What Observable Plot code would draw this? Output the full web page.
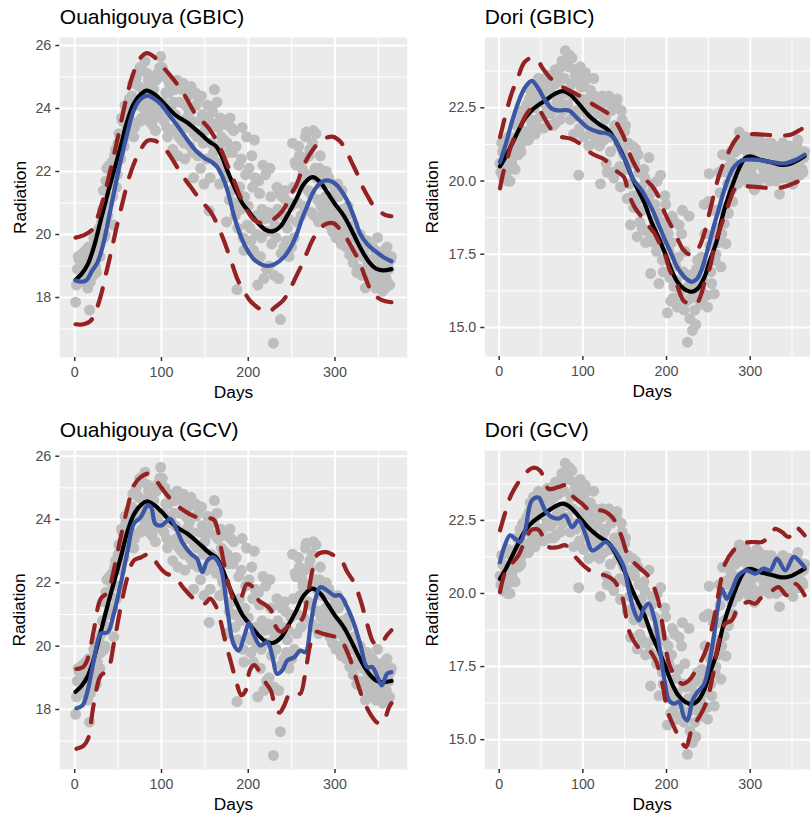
<!DOCTYPE html>
<html><head><meta charset="utf-8">
<script src="https://cdn.jsdelivr.net/npm/d3@7"></script>
<script src="https://cdn.jsdelivr.net/npm/@observablehq/plot@0.6"></script>
<style>
html,body{margin:0;padding:0;background:#fff;overflow:hidden;}
#wrap{position:relative;width:810px;height:819px;overflow:hidden;background:#fff;}
#wrap svg{position:absolute;}
</style></head><body><div id="wrap"></div>
<script>
// ---------- data ----------
const oddDays = d3.range(1, 366, 2);   // days 1,3,...,365
const evenDays = d3.range(2, 365, 2);  // days 2,4,...,364

const ouaRadOdd = [
17.85,18.9,19.2,18.6,19.4, 18.5,19.5,18.3,17.6,19.0, 18.7,19.6,18.8,20.1,19.3,
20.4,21.4,20.0,22.1,21.0, 21.6,22.3,20.3,22.7,21.9, 23.2,22.4,23.6,22.8,23.9,
23.2,24.3,23.6,24.8,23.4, 25.0,24.1,25.3,23.7,24.6, 25.5,23.8,24.9,24.2,23.5,
24.6,23.3,25.1,23.9,25.65, 25.3,23.6,24.5,23.1,24.8, 24.0,22.7,24.6,23.4,22.5,
24.2,23.0,24.8,22.4,23.7, 24.4,22.8,23.6,21.8,24.5, 23.1,24.3,22.1,23.8,21.6,
23.5,24.1,20.75,22.9,23.9, 24.6,22.3,23.4,21.6,23.1, 22.0,23.5,20.4,22.6,23.7,
21.4,23.3,20.6,18.25,22.2, 20.8,23.4,19.5,21.9,20.3, 22.1,19.8,21.5,23.0,20.6,
18.4,21.3,19.9,22.2,20.5, 18.9,20.7,22.1,19.7,16.55, 20.3,21.5,18.6,17.3,21.2,
19.6,21.1,20.2,19.3,20.9, 22.9,19.9,22.2,21.0,22.5, 20.6,21.9,22.4,23.25,21.4,
22.7,20.7,23.3,22.1,21.8, 20.4,22.5,21.6,20.7,21.2, 20.5,21.8,20.9,20.1,21.3,
19.9,21.6,20.5,19.7,20.8, 20.2,19.6,20.9,19.35,20.0, 19.1,19.9,18.8,19.5,20.0,
18.7,19.4,18.3,19.8,19.0, 18.5,19.6,18.9,18.3,19.9, 18.8,19.3,18.2,19.5,18.6,
19.0,18.4,19.3
];
const ouaRadEven = [
18.4,19.3,18.9,19.1,18.7, 19.2,18.9,19.6,18.5,19.3, 19.9,19.0,19.5,20.2,19.8,
20.8,19.9,21.7,20.6,22.2, 22.0,21.2,22.5,21.5,22.9, 22.6,23.7,23.0,24.1,23.4,
24.0,23.5,24.4,23.1,24.9, 24.2,24.7,23.6,25.2,24.0, 24.3,25.1,23.6,24.7,24.0,
23.7,24.9,24.2,25.3,23.8, 24.2,25.0,23.4,24.5,23.9, 23.3,24.2,23.8,24.9,23.1,
23.5,24.6,22.9,24.1,23.4, 23.9,24.7,22.6,23.2,24.1, 22.5,23.6,24.4,22.9,23.3,
22.4,23.7,21.8,24.0,22.6, 23.5,24.2,22.8,23.7,22.1, 23.0,21.8,22.9,21.1,23.4,
22.6,21.0,22.8,20.2,21.5, 22.4,19.9,21.2,23.1,20.9, 20.2,22.5,19.5,21.8,20.0,
21.7,19.3,20.8,18.6,21.9, 20.1,19.0,21.2,20.5,18.7, 19.9,20.8,21.3,19.4,20.6,
21.4,19.8,20.5,21.0,19.6, 21.5,22.3,20.4,22.8,21.6, 22.1,20.9,23.1,21.9,22.5,
21.3,22.9,20.6,23.2,21.1, 22.1,20.9,21.8,20.5,22.0, 21.0,20.3,21.6,20.7,21.5,
20.4,21.2,20.0,21.4,20.3, 19.8,20.6,20.1,19.9,19.5, 20.3,19.4,19.8,18.9,19.6,
19.3,18.8,19.7,19.1,18.5, 19.2,18.7,19.5,18.4,19.0, 19.4,18.5,19.1,18.3,19.6,
18.9,19.2
];

const doriRadOdd = [
20.6,21.3,20.1,20.9,20.3, 21.5,20.0,20.7,21.2,20.4, 21.9,20.9,22.2,21.3,21.7,
21.5,22.6,21.4,23.1,22.0, 23.3,21.6,22.8,23.5,22.2, 22.9,21.8,23.3,22.4,23.0,
22.3,23.5,21.9,23.8,22.7, 23.4,22.1,24.1,22.6,24.45, 23.0,23.9,22.1,24.2,21.6,
23.6,22.4,20.2,23.9,22.8, 21.5,23.7,22.3,21.2,23.1, 22.0,23.5,21.3,22.7,21.7,
19.9,22.9,21.4,22.2,20.3, 22.9,21.0,22.5,20.1,21.8, 22.8,21.5,19.8,22.1,20.9,
21.9,19.4,20.7,18.5,21.2, 19.1,21.1,18.1,20.3,19.6, 18.4,20.4,17.9,19.5,20.8,
16.84,19.9,17.9,18.7,20.0, 16.5,20.2,17.3,18.4,19.2, 15.5,17.6,15.9,18.8,16.4,
17.1,15.7,18.5,16.2,19.0, 15.6,16.8,14.5,18.8,16.0, 14.9,16.5,15.1,17.3,16.0,
16.3,15.8,19.2,17.1,15.7, 20.25,16.9,18.1,16.15,17.5, 19.0,20.3,17.07,20.9,18.55,
17.86,19.9,20.5,21.0,19.3, 20.6,21.27,19.9,21.67,20.4, 21.3,20.1,21.5,20.7,19.9,
21.3,20.5,19.7,21.1,20.6, 21.4,20.1,20.8,21.2,20.3, 20.9,20.0,21.3,20.5,20.8,
20.0,21.1,19.55,20.7,21.3, 20.4,20.9,20.1,21.2,20.6, 19.9,21.0,20.5,21.4,20.2,
20.9,20.3,21.0
];
const doriRadEven = [
20.3,21.0,20.6,21.4,20.0, 20.8,21.3,20.5,21.0,21.5, 21.2,21.8,21.0,22.4,21.6,
22.3,21.7,22.8,22.1,23.0, 22.5,21.9,23.2,22.7,23.4, 22.2,23.1,22.6,23.6,21.9,
23.0,22.4,23.3,22.0,23.7, 22.8,23.9,22.4,23.5,24.1, 22.6,24.3,23.3,22.9,23.8,
22.2,23.5,21.8,23.2,22.5, 23.4,22.0,22.8,21.6,22.5, 21.9,22.9,21.5,22.3,21.2,
22.6,21.8,22.1,20.6,22.7, 21.5,22.4,20.3,21.9,22.6, 21.2,20.5,22.4,21.0,21.7,
20.4,21.3,19.9,20.8,19.5, 20.6,19.3,20.9,18.6,19.8, 19.0,20.1,18.3,19.4,18.0,
19.6,18.4,19.2,17.6,18.9, 17.9,18.6,16.9,19.5,17.4, 18.2,16.7,17.9,16.0,18.6,
16.6,17.4,15.8,18.2,16.9, 17.6,15.9,16.4,15.3,16.8, 16.1,15.6,17.0,16.4,15.9,
17.4,16.6,18.2,16.1,19.3, 17.8,16.5,19.0,17.3,18.4, 17.9,19.6,18.2,20.4,19.1,
20.3,18.9,20.8,19.7,20.2, 21.0,20.5,21.3,20.0,21.1, 20.6,21.5,20.3,20.9,21.2,
20.2,21.0,20.7,21.5,20.0, 20.6,21.1,20.4,20.9,21.3, 20.5,21.2,20.2,20.7,21.0,
20.4,20.8,21.2,20.1,20.6, 21.0,20.3,20.8,20.5,21.1, 20.7,20.2,21.2,20.6,21.0,
20.4,20.8
];

// smooth curves: [day, radiation]
const ouaTruth = [[1,18.56],[8,18.75],[15,19.05],[22,19.6],[30,20.45],[38,21.3],[45,22.0],[53,22.8],[60,23.55],[68,24.15],[76,24.45],[83,24.57],[92,24.45],[100,24.25],[110,23.95],[118,23.75],[130,23.55],[145,23.2],[155,22.95],[163,22.8],[170,22.45],[177,21.95],[185,21.45],[193,21.0],[200,20.75],[210,20.4],[220,20.15],[228,20.1],[237,20.25],[246,20.65],[255,21.1],[264,21.6],[274,21.82],[283,21.66],[292,21.3],[300,20.97],[310,20.6],[318,20.2],[326,19.75],[333,19.39],[340,19.1],[347,18.92],[355,18.86],[365,18.9]];

const ouaGbicFit = [[1,18.54],[8,18.5],[14,18.56],[20,18.85],[26,19.1],[32,19.6],[38,20.35],[45,21.3],[53,22.35],[60,23.15],[68,23.94],[76,24.3],[84,24.41],[92,24.3],[100,24.12],[110,23.75],[118,23.47],[130,23.0],[140,22.65],[150,22.42],[158,22.3],[164,22.15],[170,21.85],[176,21.4],[184,20.55],[192,19.9],[199,19.5],[207,19.2],[214,19.07],[222,19.0],[230,19.05],[241,19.28],[250,19.65],[256,20.02],[262,20.5],[268,20.9],[274,21.3],[280,21.55],[287,21.7],[293,21.71],[300,21.62],[307,21.4],[314,21.08],[322,20.55],[329,20.02],[337,19.7],[345,19.5],[356,19.28],[365,19.15]];
const ouaGbicUpper = [[1,19.9],[10,19.97],[20,20.15],[27,20.6],[33,21.14],[39,21.8],[45,22.5],[51,23.25],[56,23.9],[62,24.6],[68,25.15],[75,25.58],[83,25.76],[91,25.65],[99,25.4],[110,25.05],[120,24.7],[128,24.36],[139,23.83],[147,23.6],[155,23.36],[162,23.05],[168,22.73],[176,22.2],[183,21.75],[191,21.19],[199,20.75],[206,20.48],[214,20.37],[222,20.39],[230,20.5],[238,20.7],[244,20.95],[250,21.3],[256,21.6],[264,22.2],[271,22.55],[279,22.85],[288,23.05],[298,23.1],[306,22.95],[313,22.65],[320,22.25],[326,21.9],[331,21.56],[338,21.2],[344,20.93],[352,20.72],[360,20.6],[365,20.58]];
const ouaGbicLower = [[1,17.15],[10,17.15],[18,17.25],[24,17.55],[30,18.05],[36,18.75],[42,19.45],[48,20.2],[55,21.0],[62,21.75],[69,22.3],[76,22.7],[84,22.98],[92,22.98],[100,22.85],[110,22.5],[118,22.14],[126,21.8],[134,21.5],[142,21.2],[149,20.97],[157,20.7],[164,20.34],[172,19.8],[180,19.18],[188,18.55],[195,18.2],[202,17.9],[210,17.7],[218,17.58],[225,17.57],[232,17.72],[240,17.9],[247,18.2],[254,18.6],[261,19.0],[268,19.45],[275,19.87],[283,20.2],[291,20.35],[299,20.35],[306,20.15],[314,19.85],[321,19.5],[328,19.15],[334,18.7],[342,18.2],[350,17.98],[358,17.88],[365,17.85]];

const ouaGcvFit = [[2,18.04],[9,18.13],[15,18.6],[22,19.55],[30,20.39],[38,20.44],[45,21.02],[53,21.97],[61,23.02],[68,23.86],[76,24.07],[84,24.44],[88,24.39],[93,23.86],[100,23.81],[110,24.02],[118,23.65],[124,23.28],[134,22.92],[141,22.76],[147,22.34],[153,22.71],[160,22.81],[168,22.5],[176,21.13],[183,20.07],[189,19.86],[195,20.28],[201,20.73],[206,20.39],[214,20.02],[222,20.13],[228,19.65],[233,19.13],[239,19.23],[245,19.55],[253,19.65],[260,19.86],[266,19.81],[272,20.7],[277,21.44],[283,21.86],[291,21.76],[299,21.6],[306,21.6],[314,21.23],[322,20.7],[329,20.07],[337,19.34],[343,19.34],[349,19.02],[354,18.76],[360,19.13],[365,19.18]];
const ouaGcvUpper = [[2,19.28],[10,19.35],[15,19.6],[22,20.5],[30,21.5],[38,21.7],[45,22.4],[53,23.44],[61,24.39],[68,25.07],[76,25.34],[85,25.45],[92,25.3],[100,25.0],[112,24.6],[125,24.3],[138,24.1],[150,24.05],[160,24.0],[165,23.65],[170,22.9],[178,21.9],[185,21.4],[192,21.55],[198,21.95],[204,21.9],[212,21.45],[220,21.3],[226,21.15],[232,20.6],[238,20.45],[245,20.6],[255,20.8],[262,20.85],[268,21.5],[274,22.4],[280,22.9],[290,22.97],[300,22.85],[306,22.78],[314,22.35],[322,22.0],[330,21.4],[337,20.7],[345,20.1],[352,20.05],[360,20.35],[365,20.5]];
const ouaGcvLower = [[2,16.76],[10,16.85],[15,17.05],[22,18.18],[30,19.07],[38,19.23],[45,20.07],[53,21.23],[61,22.2],[68,22.7],[76,22.8],[84,22.9],[90,22.85],[95,22.6],[105,22.3],[115,22.2],[125,21.85],[135,21.55],[142,21.4],[150,21.35],[156,21.5],[162,21.3],[168,20.8],[174,20.1],[180,19.5],[186,18.9],[192,18.45],[197,18.6],[202,19.25],[207,19.4],[213,19.2],[220,18.85],[226,18.6],[231,18.1],[236,17.9],[241,18.1],[248,18.5],[255,18.55],[260,18.5],[266,19.2],[272,20.1],[278,20.45],[285,20.4],[292,20.35],[300,20.3],[306,20.25],[312,19.95],[318,19.55],[324,19.0],[330,18.5],[336,18.1],[342,17.8],[348,17.6],[353,17.55],[358,17.75],[362,18.05],[365,18.2]];

const doriTruth = [[1,20.5],[8,20.85],[15,21.25],[23,21.72],[31,22.15],[39,22.42],[47,22.6],[55,22.75],[67,22.98],[76,23.07],[85,22.95],[95,22.64],[107,22.24],[119,21.95],[131,21.72],[143,21.16],[150,20.75],[157,20.25],[165,19.75],[174,19.23],[182,18.6],[190,18.1],[198,17.55],[206,16.95],[214,16.52],[222,16.3],[230,16.22],[238,16.35],[245,16.7],[252,17.3],[260,17.95],[266,18.7],[272,19.3],[280,19.95],[287,20.45],[294,20.78],[300,20.84],[313,20.72],[325,20.64],[337,20.55],[347,20.58],[356,20.7],[365,20.85]];

const doriGbicFit = [[1,20.65],[8,21.27],[15,22.0],[23,22.7],[31,23.2],[39,23.42],[47,23.15],[55,22.75],[63,22.47],[71,22.41],[83,22.41],[95,22.1],[107,21.8],[119,21.67],[131,21.61],[139,21.4],[145,21.0],[151,20.7],[161,20.02],[170,19.7],[178,19.3],[185,18.9],[190,18.55],[198,18.0],[206,17.5],[212,17.1],[218,16.84],[224,16.65],[230,16.56],[236,16.65],[241,16.9],[250,17.75],[256,18.4],[262,19.0],[268,19.6],[274,20.1],[280,20.45],[290,20.7],[306,20.73],[325,20.65],[341,20.6],[354,20.72],[365,20.9]];
const doriGbicUpper = [[1,21.5],[8,22.3],[15,23.0],[22,23.5],[30,24.05],[38,24.2],[45,24.15],[52,23.85],[60,23.55],[70,23.3],[80,23.15],[90,23.0],[100,22.85],[113,22.6],[125,22.4],[135,22.2],[142,21.9],[149,21.5],[157,20.85],[165,20.4],[173,20.1],[182,19.85],[190,19.5],[198,18.9],[205,18.5],[212,18.1],[219,17.7],[227,17.5],[234,17.52],[240,17.8],[246,18.3],[252,19.0],[258,19.7],[264,20.3],[272,20.85],[280,21.3],[287,21.55],[296,21.6],[306,21.6],[318,21.58],[328,21.56],[340,21.55],[350,21.6],[358,21.72],[365,21.84]];
const doriGbicLower = [[1,19.75],[5,20.3],[10,20.8],[15,21.27],[20,21.6],[25,21.84],[33,22.3],[40,22.5],[47,22.45],[53,22.2],[59,21.9],[67,21.6],[75,21.5],[85,21.45],[97,21.27],[105,21.05],[113,20.9],[125,20.75],[135,20.48],[142,20.3],[149,20.14],[155,19.55],[162,19.1],[171,18.75],[179,18.45],[186,18.2],[192,17.85],[198,17.5],[204,16.95],[212,16.5],[220,15.93],[228,15.8],[236,15.82],[241,16.1],[246,16.6],[252,17.07],[258,17.86],[266,18.55],[274,19.2],[282,19.75],[290,19.85],[298,19.82],[306,19.8],[318,19.77],[328,19.74],[340,19.8],[350,19.9],[358,20.0],[365,20.14]];

const doriGcvFit = [[1,21.07],[6,21.59],[13,21.99],[19,21.87],[25,21.76],[31,22.16],[39,23.18],[47,23.28],[55,22.84],[63,22.61],[71,22.56],[79,22.67],[87,22.27],[95,22.5],[103,22.04],[111,21.47],[119,21.59],[127,21.76],[135,21.59],[143,21.25],[149,20.9],[155,20.1],[161,19.42],[167,19.08],[173,19.48],[179,19.65],[185,19.19],[191,18.28],[197,17.14],[203,16.34],[209,16.23],[215,16.29],[221,15.77],[225,15.66],[231,16.34],[237,16.63],[245,16.91],[251,17.6],[257,18.62],[262,19.65],[266,20.16],[272,19.82],[278,20.11],[286,20.62],[296,20.79],[306,20.68],[316,20.85],[324,20.79],[332,21.19],[342,20.79],[352,21.25],[360,21.07],[365,20.9]];
const doriGcvUpper = [[1,22.16],[8,22.84],[15,23.41],[31,24.1],[41,24.3],[49,24.2],[59,23.58],[71,23.64],[79,23.7],[87,23.35],[99,23.07],[111,22.78],[123,22.84],[135,22.61],[145,22.04],[155,21.25],[167,20.9],[179,20.56],[189,19.88],[195,18.97],[203,17.6],[211,17.14],[219,16.91],[227,17.03],[237,17.48],[247,18.05],[257,19.19],[265,20.45],[270,21.02],[280,21.47],[290,21.7],[302,21.76],[314,21.76],[322,21.93],[330,22.21],[338,22.1],[346,21.93],[354,22.27],[365,21.99]];
const doriGcvLower = [[1,20.05],[8,20.79],[15,21.02],[23,21.3],[31,21.82],[39,22.18],[47,22.18],[59,21.59],[71,21.59],[79,21.65],[91,21.25],[103,20.9],[115,20.68],[127,20.62],[137,20.45],[147,19.88],[155,18.74],[163,18.28],[171,18.05],[179,18.05],[187,17.71],[195,16.91],[201,16.0],[209,15.43],[217,14.98],[223,14.75],[231,15.43],[239,15.77],[247,16.23],[255,17.14],[262,18.28],[270,18.97],[278,19.08],[286,19.54],[298,19.71],[306,19.65],[314,19.88],[324,20.05],[334,20.22],[344,19.94],[354,20.33],[365,19.94]];

const xMajor = [0, 100, 200, 300];
const xMinor = [50, 150, 250, 350];
const ouaTicks = [18, 20, 22, 24, 26];
const ouaMinor = [17, 19, 21, 23, 25];
const doriTicks = [15, 17.5, 20, 22.5];
const doriMinor = [16.25, 18.75, 21.25, 23.75];

const ouaPoints = [
  ...oddDays.map((d, i) => ({day: d, rad: ouaRadOdd[i]})),
  ...evenDays.map((d, i) => ({day: d, rad: ouaRadEven[i]}))
];
const doriPoints = [
  ...oddDays.map((d, i) => ({day: d, rad: doriRadOdd[i]})),
  ...evenDays.map((d, i) => ({day: d, rad: doriRadEven[i]}))
];

const panels = [
  {title: "Ouahigouya (GBIC)", pts: ouaPoints, truth: ouaTruth, fit: ouaGbicFit, upper: ouaGbicUpper, lower: ouaGbicLower,
   yDomain: [16.095, 26.254], ticks: ouaTicks, minor: ouaMinor, fmt: d3.format("d"),
   left: 0, top: 0, width: 410, height: 410, mL: 59.3, mR: 3.3, mT: 37, mB: 53, labDx: -46},
  {title: "Dori (GBIC)", pts: doriPoints, truth: doriTruth, fit: doriGbicFit, upper: doriGbicUpper, lower: doriGbicLower,
   yDomain: [14.01, 24.9], ticks: doriTicks, minor: doriMinor, fmt: d3.format(".1f"),
   left: 405, top: 0, width: 415, height: 410, mL: 79.3, mR: 0.7, mT: 37, mB: 54, labDx: -59.3},
  {title: "Ouahigouya (GCV)", pts: ouaPoints, truth: ouaTruth, fit: ouaGcvFit, upper: ouaGcvUpper, lower: ouaGcvLower,
   yDomain: [16.105, 26.18], ticks: ouaTicks, minor: ouaMinor, fmt: d3.format("d"),
   left: 0, top: 410, width: 410, height: 409, mL: 59.3, mR: 3.3, mT: 40, mB: 50, labDx: -46.6},
  {title: "Dori (GCV)", pts: doriPoints, truth: doriTruth, fit: doriGcvFit, upper: doriGcvUpper, lower: doriGcvLower,
   yDomain: [13.98, 24.89], ticks: doriTicks, minor: doriMinor, fmt: d3.format(".1f"),
   left: 405, top: 410, width: 415, height: 409, mL: 79.3, mR: 0.7, mT: 40, mB: 50, labDx: -58.6}
];

// ---------- drawing ----------
const FONT = "'Liberation Sans', Arial, Helvetica, sans-serif";
const RED = "#952222", BLUE = "#3A56A5", PT = "#BEBEBE";
const xExt = d3.extent(oddDays);
const xPad = (xExt[1] - xExt[0]) * 0.05;
const xDomain = [xExt[0] - xPad, xExt[1] + xPad];
const wrap = document.getElementById("wrap");

for (const p of panels) {
  const lineOpts = {x: d => d[0], y: d => d[1], curve: "catmull-rom", strokeWidth: 4.2, strokeLinejoin: "round"};
  const svg = Plot.plot({
    width: p.width, height: p.height,
    marginLeft: p.mL, marginRight: p.mR, marginTop: p.mT, marginBottom: p.mB,
    style: {fontFamily: FONT, background: "transparent", overflow: "visible"},
    x: {domain: xDomain, axis: null},
    y: {domain: p.yDomain, axis: null},
    marks: [
      Plot.frame({fill: "#EBEBEB", stroke: null}),
      Plot.gridX(xMinor, {stroke: "#fff", strokeOpacity: 1, strokeWidth: 1}),
      Plot.gridY(p.minor, {stroke: "#fff", strokeOpacity: 1, strokeWidth: 1}),
      Plot.gridX(xMajor, {stroke: "#fff", strokeOpacity: 1, strokeWidth: 2}),
      Plot.gridY(p.ticks, {stroke: "#fff", strokeOpacity: 1, strokeWidth: 2}),
      Plot.dot(p.pts, {x: "day", y: "rad", r: 5.5, fill: PT, stroke: null}),
      Plot.line(p.truth, {...lineOpts, stroke: "#000"}),
      Plot.line(p.fit, {...lineOpts, stroke: BLUE}),
      Plot.line(p.upper, {...lineOpts, stroke: RED, strokeDasharray: "18,15"}),
      Plot.line(p.lower, {...lineOpts, stroke: RED, strokeDasharray: "18,15"}),
      Plot.axisX(xMajor, {tickSize: 4, tickPadding: 5, stroke: "#333", strokeWidth: 1.5, fill: "#4D4D4D", fontSize: 14.3, label: null}),
      Plot.axisY(p.ticks, {tickSize: 4, tickPadding: 4.5, stroke: "#333", strokeWidth: 1.5, fill: "#4D4D4D", fontSize: 14.3, tickFormat: p.fmt, label: null}),
      Plot.text([p.title], {frameAnchor: "top-left", textAnchor: "start", lineAnchor: "bottom", dy: -14, fontSize: 21, fill: "#000"}),
      Plot.text(["Days"], {frameAnchor: "bottom", textAnchor: "middle", lineAnchor: "bottom", dy: 40.5, fontSize: 17.3, fill: "#000"}),
      Plot.text(["Radiation"], {frameAnchor: "left", textAnchor: "middle", lineAnchor: "top", rotate: -90, dx: p.labDx, fontSize: 17.3, fill: "#000"})
    ]
  });
  svg.style.left = p.left + "px";
  svg.style.top = p.top + "px";
  wrap.appendChild(svg);
}
</script>
</body></html>
